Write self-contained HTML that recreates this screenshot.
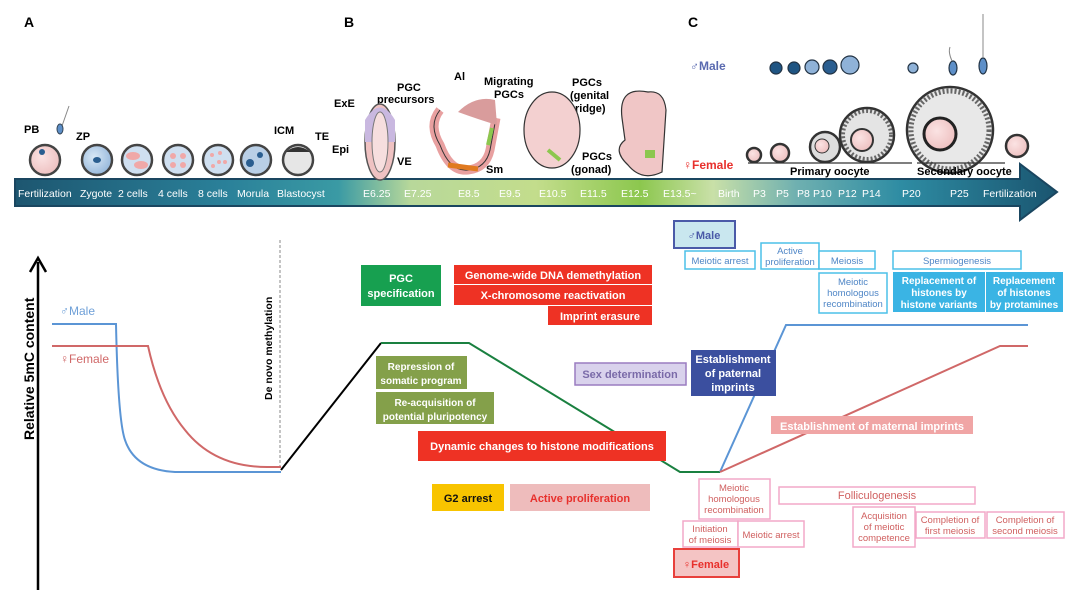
<!DOCTYPE html>
<html><head><meta charset="utf-8"><style>
body{margin:0;background:#fff}
svg{display:block;font-family:"Liberation Sans",Arial,sans-serif}
.b{font-weight:bold}
</style></head><body>
<svg width="1080" height="592" viewBox="0 0 1080 592" xmlns="http://www.w3.org/2000/svg">
<defs>
<linearGradient id="tl" x1="0" x2="1" y1="0" y2="0">
<stop offset="0" stop-color="#1d5670"/>
<stop offset="0.2" stop-color="#2a8099"/>
<stop offset="0.31" stop-color="#3a9aa4"/>
<stop offset="0.38" stop-color="#b8d89a"/>
<stop offset="0.5" stop-color="#c3dd8c"/>
<stop offset="0.6" stop-color="#8cc74e"/>
<stop offset="0.67" stop-color="#c9e0a8"/>
<stop offset="0.75" stop-color="#6fb0b0"/>
<stop offset="0.85" stop-color="#2e8ca3"/>
<stop offset="1" stop-color="#1a5570"/>
</linearGradient>
<radialGradient id="cell" cx="0.4" cy="0.4" r="0.7"><stop offset="0" stop-color="#fbe3e3"/><stop offset="1" stop-color="#ecbcbc"/></radialGradient>
<radialGradient id="bcell" cx="0.4" cy="0.4" r="0.7"><stop offset="0" stop-color="#d8e8f6"/><stop offset="1" stop-color="#8fb2d8"/></radialGradient>
</defs>

<text x="24" y="27" class="b" font-size="14">A</text>
<text x="344" y="27" class="b" font-size="14">B</text>
<text x="688" y="27" class="b" font-size="14">C</text>

<path d="M15 179 H1020 V164 L1057 192 L1020 220 V206 H15 Z" fill="url(#tl)" stroke="#1a4660" stroke-width="2"/>
<g fill="#fff" font-size="10.5">
<text x="18" y="197">Fertilization</text><text x="80" y="197">Zygote</text><text x="118" y="197">2 cells</text><text x="158" y="197">4 cells</text><text x="198" y="197">8 cells</text><text x="237" y="197">Morula</text><text x="277" y="197">Blastocyst</text>
<text x="363" y="197">E6.25</text><text x="404" y="197">E7.25</text><text x="458" y="197">E8.5</text><text x="499" y="197">E9.5</text><text x="539" y="197">E10.5</text><text x="580" y="197">E11.5</text><text x="621" y="197">E12.5</text><text x="663" y="197">E13.5~</text>
<text x="718" y="197">Birth</text><text x="753" y="197">P3</text><text x="776" y="197">P5</text><text x="797" y="197">P8</text><text x="813" y="197">P10</text><text x="838" y="197">P12</text><text x="862" y="197">P14</text><text x="902" y="197">P20</text><text x="950" y="197">P25</text><text x="983" y="197">Fertilization</text>
</g>

<g stroke="#444" stroke-width="2.5">
<circle cx="45" cy="160" r="15" fill="url(#cell)"/>
<circle cx="97" cy="160" r="15" fill="url(#bcell)"/>
<circle cx="137" cy="160" r="15" fill="#cfdff0"/>
<circle cx="178" cy="160" r="15" fill="#cfdff0"/>
<circle cx="218" cy="160" r="15" fill="#cfdff0"/>
<circle cx="256" cy="160" r="15" fill="#b9cfe6"/>
<circle cx="298" cy="160" r="15" fill="#e6e6e6"/>
</g>
<g fill="#f0a8a8"><ellipse cx="133" cy="156" rx="7" ry="4"/><ellipse cx="141" cy="165" rx="7" ry="4"/>
<circle cx="173" cy="156" r="3"/><circle cx="183" cy="156" r="3"/><circle cx="173" cy="165" r="3"/><circle cx="183" cy="165" r="3"/>
<circle cx="212" cy="155" r="2"/><circle cx="220" cy="153" r="2"/><circle cx="225" cy="162" r="2"/><circle cx="213" cy="166" r="2"/><circle cx="219" cy="162" r="2"/></g>
<g fill="#2a5e90"><circle cx="250" cy="163" r="4"/><circle cx="260" cy="155" r="3"/><circle cx="42" cy="152" r="3"/><ellipse cx="97" cy="160" rx="4" ry="3"/></g>
<path d="M286 152 Q298 142 310 152 Z" fill="#333"/>
<path d="M69 106 L62 126" stroke="#888"/><ellipse cx="60" cy="129" rx="3" ry="5" fill="#5d8fc8" stroke="#345"/>
<g class="b" font-size="11"><text x="24" y="133">PB</text><text x="76" y="140">ZP</text><text x="274" y="134">ICM</text><text x="315" y="140">TE</text>
<text x="334" y="107">ExE</text><text x="332" y="153">Epi</text><text x="397" y="165">VE</text><text x="397" y="91">PGC</text><text x="377" y="103">precursors</text>
<text x="454" y="80">Al</text><text x="484" y="85">Migrating</text><text x="494" y="98">PGCs</text><text x="486" y="173">Sm</text>
<text x="572" y="86">PGCs</text><text x="570" y="99">(genital</text><text x="575" y="112">ridge)</text><text x="582" y="160">PGCs</text><text x="571" y="173">(gonad)</text></g>

<ellipse cx="380" cy="142" rx="15" ry="38" fill="#efc2c2" stroke="#555" stroke-width="1.5"/>
<path d="M365 142 V120 Q380 95 395 120 V142 Z" fill="#c9b8e0"/>
<ellipse cx="380" cy="142" rx="8" ry="30" fill="#f6dede" stroke="#777"/>
<path d="M440 110 Q428 125 440 145 Q450 172 468 170 Q486 168 490 150 L496 118" fill="none" stroke="#e8a0a0" stroke-width="9"/>
<path d="M440 110 Q428 125 440 145 Q450 172 468 170 Q486 168 490 150 L496 118" fill="none" stroke="#333" stroke-width="1"/>
<path d="M458 112 Q475 95 495 100 L497 125 Q480 120 458 112" fill="#d99c9c"/>
<path d="M448 165 L478 169" stroke="#e07a20" stroke-width="5"/>
<path d="M488 145 L492 128" stroke="#8cc74e" stroke-width="4"/>
<ellipse cx="552" cy="130" rx="28" ry="38" fill="#f3d0d0" stroke="#333" stroke-width="1.2"/>
<path d="M548 150 L560 160" stroke="#8cc74e" stroke-width="4"/>
<path d="M648 92 Q618 86 622 118 L625 140 Q612 150 628 165 Q642 182 662 172 L666 110 Q664 90 648 92Z" fill="#f0c6c6" stroke="#333" stroke-width="1.2"/>
<rect x="645" y="150" width="10" height="8" fill="#8cc74e"/>

<g stroke="#333" stroke-width="2.5" fill="url(#cell)">
<circle cx="754" cy="155" r="7"/><circle cx="780" cy="153" r="9"/><circle cx="825" cy="147" r="15" fill="#ddd"/>
<circle cx="867" cy="135" r="27" fill="#e4e4e4"/><circle cx="950" cy="130" r="43" fill="#e8e8e8"/><circle cx="1017" cy="146" r="11"/>
</g>
<circle cx="867" cy="135" r="24" fill="none" stroke="#666" stroke-width="4" stroke-dasharray="2,2"/>
<circle cx="950" cy="130" r="39" fill="none" stroke="#666" stroke-width="5" stroke-dasharray="2,2"/>
<circle cx="862" cy="140" r="11" fill="url(#cell)" stroke="#333" stroke-width="2"/>
<circle cx="940" cy="134" r="16" fill="url(#cell)" stroke="#222" stroke-width="3"/>
<circle cx="822" cy="146" r="7" fill="url(#cell)" stroke="#333"/>
<path d="M748 163 H912 M917 163 H1005" stroke="#333" stroke-width="1.2"/>
<g class="b" font-size="11"><text x="790" y="175">Primary oocyte</text><text x="917" y="175">Secondary oocyte</text>
<text x="683" y="169" fill="#e8302c" font-size="12">♀Female</text><text x="690" y="70" fill="#5a6ab0" font-size="12">♂Male</text></g>
<g stroke="#234" stroke-width="1.2">
<circle cx="776" cy="68" r="6" fill="#1f5583"/><circle cx="794" cy="68" r="6" fill="#1f5583"/><circle cx="812" cy="67" r="7" fill="#8fb2d8"/><circle cx="830" cy="67" r="7" fill="#2a5e90"/><circle cx="850" cy="65" r="9" fill="#8fb2d8"/>
<circle cx="913" cy="68" r="5" fill="#8fb2d8"/><ellipse cx="953" cy="68" rx="4" ry="7" fill="#5d8fc8"/><ellipse cx="983" cy="66" rx="4" ry="8" fill="#5d8fc8"/></g>
<path d="M983 58 V14 M952 61 Q948 52 950 47" stroke="#888" fill="none"/>

<path d="M38 590 V262" stroke="#000" stroke-width="2.5"/><path d="M30 272 L38 258 L46 272" stroke="#000" stroke-width="2.5" fill="none"/>
<text transform="translate(34,440) rotate(-90)" class="b" font-size="14">Relative 5mC content</text>
<text transform="translate(272,400) rotate(-90)" class="b" font-size="10.5">De novo methylation</text>
<path d="M280 240 V468" stroke="#888" stroke-dasharray="3,2"/>
<text x="60" y="315" fill="#6fa0d8" font-size="12">♂Male</text>
<text x="60" y="363" fill="#d06868" font-size="12">♀Female</text>
<path d="M52 324 H116 Q118 420 125 440 Q135 470 175 472 H281" stroke="#5b95d5" stroke-width="2" fill="none"/>
<path d="M52 346 H148 Q160 400 185 430 Q215 468 270 467 H281" stroke="#d06868" stroke-width="2" fill="none"/>
<path d="M281 470 L381 343" stroke="#000" stroke-width="2" fill="none"/>
<path d="M381 343 H469 L680 472 H720" stroke="#1a8040" stroke-width="2" fill="none"/>
<path d="M720 472 L786 325 H1028" stroke="#5b95d5" stroke-width="2" fill="none"/>
<path d="M720 472 L1000 346 H1028" stroke="#d06868" stroke-width="2" fill="none"/>

<g class="b" font-size="11" text-anchor="middle" fill="#fff">
<rect x="361" y="265" width="80" height="41" fill="#17a050"/><text x="401" y="282">PGC</text><text x="401" y="297">specification</text>
<rect x="454" y="265" width="198" height="19" fill="#ee3224"/><text x="553" y="279">Genome-wide DNA demethylation</text>
<rect x="454" y="285" width="198" height="20" fill="#ee3224"/><text x="553" y="299">X-chromosome reactivation</text>
<rect x="548" y="306" width="104" height="19" fill="#ee3224"/><text x="600" y="320">Imprint erasure</text>
<rect x="376" y="356" width="91" height="33" fill="#84a04a"/><text x="421" y="370" font-size="10">Repression of</text><text x="421" y="384" font-size="10">somatic program</text>
<rect x="376" y="392" width="118" height="32" fill="#84a04a"/><text x="435" y="406" font-size="10">Re-acquisition of</text><text x="435" y="420" font-size="10">potential pluripotency</text>
<rect x="418" y="431" width="248" height="30" fill="#ee3224"/><text x="542" y="450">Dynamic changes to histone modifications</text>
<rect x="432" y="484" width="72" height="27" fill="#f8c400"/><text x="468" y="502" fill="#111">G2 arrest</text>
<rect x="510" y="484" width="140" height="27" fill="#eebcbc"/><text x="580" y="502" fill="#e8302c">Active proliferation</text>
<rect x="575" y="363" width="111" height="22" fill="#d9d2ec" stroke="#9a7cc0" stroke-width="1.5"/><text x="630" y="378" fill="#7a6aa8">Sex determination</text>
<rect x="674" y="221" width="61" height="27" fill="#c9e7ef" stroke="#4a5aa8" stroke-width="2"/><text x="704" y="239" fill="#4a5aa8">♂Male</text>
<rect x="691" y="350" width="85" height="46" fill="#3b4f9f"/><text x="733" y="363">Establishment</text><text x="733" y="377">of paternal</text><text x="733" y="391">imprints</text>
<rect x="771" y="416" width="202" height="18" fill="#f0a5a5"/><text x="872" y="430">Establishment of maternal imprints</text>
<rect x="893" y="272" width="92" height="40" fill="#3ab4e4"/><text x="939" y="284" font-size="10">Replacement of</text><text x="939" y="296" font-size="10">histones by</text><text x="939" y="308" font-size="10">histone variants</text>
<rect x="986" y="272" width="77" height="40" fill="#3ab4e4"/><text x="1024" y="284" font-size="10">Replacement</text><text x="1024" y="296" font-size="10">of histones</text><text x="1024" y="308" font-size="10">by protamines</text>
<rect x="674" y="549" width="65" height="28" fill="#f4c4c4" stroke="#e8403c" stroke-width="2"/><text x="706" y="568" fill="#e8302c">♀Female</text>
</g>
<g font-size="9.5" text-anchor="middle" fill="#4f86c6" stroke-width="1.5">
<rect x="685" y="251" width="70" height="18" fill="#fff" stroke="#4cc0e8"/><text x="720" y="264">Meiotic arrest</text>
<rect x="761" y="243" width="58" height="26" fill="#fff" stroke="#4cc0e8"/><text x="790" y="254">Active</text><text x="790" y="265">proliferation</text>
<rect x="819" y="251" width="56" height="18" fill="#fff" stroke="#4cc0e8"/><text x="847" y="264">Meiosis</text>
<rect x="819" y="273" width="68" height="40" fill="#fff" stroke="#4cc0e8"/><text x="853" y="285">Meiotic</text><text x="853" y="296">homologous</text><text x="853" y="307">recombination</text>
<rect x="893" y="251" width="128" height="18" fill="#fff" stroke="#4cc0e8"/><text x="957" y="264">Spermiogenesis</text>
</g>
<g font-size="9.5" text-anchor="middle" fill="#d06060" stroke-width="1.5">
<rect x="699" y="479" width="71" height="40" fill="#fff" stroke="#f2a8c8"/><text x="734" y="491">Meiotic</text><text x="734" y="502">homologous</text><text x="734" y="513">recombination</text>
<rect x="779" y="487" width="196" height="17" fill="#fff" stroke="#f2a8c8"/><text x="877" y="499" font-size="11">Folliculogenesis</text>
<rect x="683" y="521" width="55" height="26" fill="#fff" stroke="#f2a8c8"/><text x="710" y="532">Initiation</text><text x="710" y="543">of meiosis</text>
<rect x="738" y="521" width="66" height="26" fill="#fff" stroke="#f2a8c8"/><text x="771" y="538">Meiotic arrest</text>
<rect x="853" y="507" width="62" height="40" fill="#fff" stroke="#f2a8c8"/><text x="884" y="519">Acquisition</text><text x="884" y="530">of meiotic</text><text x="884" y="541">competence</text>
<rect x="916" y="512" width="69" height="26" fill="#fff" stroke="#f2a8c8"/><text x="950" y="523">Completion of</text><text x="950" y="534">first meiosis</text>
<rect x="987" y="512" width="77" height="26" fill="#fff" stroke="#f2a8c8"/><text x="1025" y="523">Completion of</text><text x="1025" y="534">second meiosis</text>
</g>
</svg>
</body></html>
